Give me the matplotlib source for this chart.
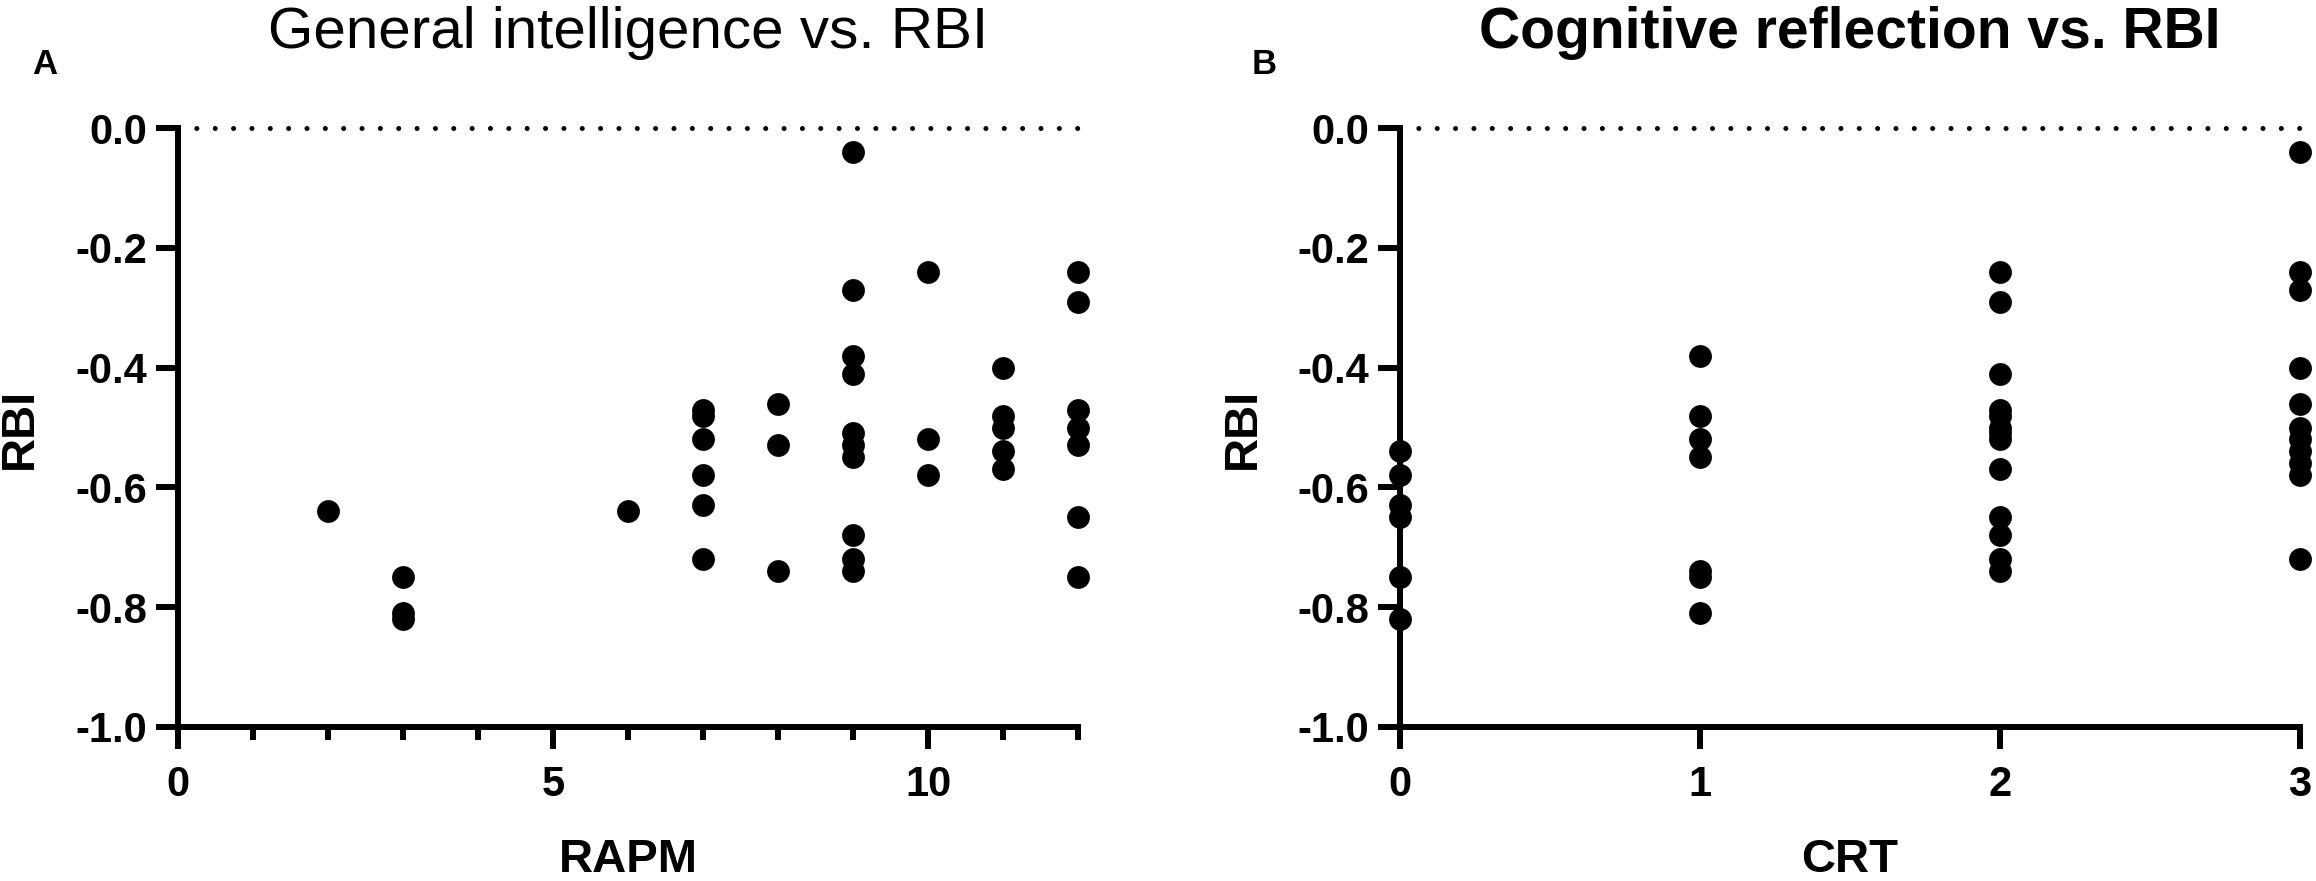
import matplotlib
matplotlib.use("Agg")
import matplotlib.pyplot as plt

# --- data ---
rapm = [2,
        3, 3, 3,
        6,
        7, 7, 7, 7, 7, 7,
        8, 8, 8,
        9, 9, 9, 9, 9, 9, 9, 9, 9, 9,
        10, 10, 10,
        11, 11, 11, 11, 11,
        12, 12, 12, 12, 12, 12, 12]
rbi_a = [-0.64,
         -0.75, -0.81, -0.82,
         -0.64,
         -0.47, -0.48, -0.52, -0.58, -0.63, -0.72,
         -0.46, -0.53, -0.74,
         -0.04, -0.27, -0.38, -0.41, -0.51, -0.53, -0.55, -0.68, -0.72, -0.74,
         -0.24, -0.52, -0.58,
         -0.40, -0.48, -0.50, -0.54, -0.57,
         -0.24, -0.29, -0.47, -0.50, -0.53, -0.65, -0.75]

crt = [0, 0, 0, 0, 0, 0,
       1, 1, 1, 1, 1, 1, 1,
       2, 2, 2, 2, 2, 2, 2, 2, 2, 2, 2, 2, 2,
       3, 3, 3, 3, 3, 3, 3, 3, 3, 3, 3]
rbi_b = [-0.54, -0.58, -0.63, -0.65, -0.75, -0.82,
         -0.38, -0.48, -0.52, -0.55, -0.74, -0.75, -0.81,
         -0.24, -0.29, -0.41, -0.47, -0.48, -0.50, -0.51, -0.52, -0.57, -0.65, -0.68, -0.72, -0.74,
         -0.04, -0.24, -0.27, -0.40, -0.46, -0.50, -0.52, -0.54, -0.56, -0.58, -0.72]

y_ticks = [0.0, -0.2, -0.4, -0.6, -0.8, -1.0]
y_ticklabels = ["0.0", "-0.2", "-0.4", "-0.6", "-0.8", "-1.0"]
a_major = [0, 5, 10]
a_major_labels = ["0", "5", "10"]
a_minor = [1, 2, 3, 4, 6, 7, 8, 9, 11, 12]
b_ticks = [0, 1, 2, 3]
b_ticklabels = ["0", "1", "2", "3"]

plt.rcParams["font.family"] = ["Liberation Sans", "DejaVu Sans"]
plt.rcParams["font.weight"] = "bold"

W, H = 2316, 881
fig = plt.figure(figsize=(W / 100, H / 100), dpi=100)

ax_a = fig.add_axes([178 / W, 1 - 727 / H, 900 / W, 599 / H])
ax_b = fig.add_axes([1400 / W, 1 - 727 / H, 900 / W, 599 / H])

LW = 4.3


def style(ax, xmax):
    ax.set_xlim(0, xmax)
    ax.set_ylim(-1, 0)
    for s in ["top", "right"]:
        ax.spines[s].set_visible(False)
    for s in ["left", "bottom"]:
        ax.spines[s].set_linewidth(LW)
    ax.set_yticks(y_ticks)
    ax.set_yticklabels(y_ticklabels)
    ax.tick_params(which="major", length=16, width=LW, labelsize=30)
    ax.tick_params(which="minor", length=9, width=LW)
    ax.tick_params(axis="x", pad=11)
    ax.tick_params(axis="y", pad=6)
    # dotted reference line at 0
    ax.plot([0, xmax], [0, 0], color="black", lw=3.6,
            linestyle=(0, (0.01, 3.66)), dash_capstyle="round", clip_on=False)


style(ax_a, 12)
ax_a.set_xticks(a_major)
ax_a.set_xticklabels(a_major_labels)
ax_a.set_xticks(a_minor, minor=True)
ax_a.scatter(rapm, rbi_a, s=270, color="black", linewidths=0, clip_on=False, zorder=5)

style(ax_b, 3)
ax_b.set_xticks(b_ticks)
ax_b.set_xticklabels(b_ticklabels)
ax_b.scatter(crt, rbi_b, s=270, color="black", linewidths=0, clip_on=False, zorder=5)

# titles, axis labels, panel letters
fig.text(628 / W, 1 - 48 / H, "General intelligence vs. RBI", ha="center", va="baseline",
         fontsize=42, fontweight="normal")
fig.text(1850 / W, 1 - 48 / H, "Cognitive reflection vs. RBI", ha="center", va="baseline",
         fontsize=41, fontweight="bold")
fig.text(628 / W, 1 - 860 / H, "RAPM", ha="center", va="center", fontsize=34)
fig.text(1850 / W, 1 - 860 / H, "CRT", ha="center", va="center", fontsize=34)
fig.text(20 / W, 1 - 428 / H, "RBI", ha="center", va="center", rotation=90, fontsize=34)
fig.text(1243 / W, 1 - 428 / H, "RBI", ha="center", va="center", rotation=90, fontsize=34)
fig.text(32 / W, 1 - 74 / H, "A", ha="left", va="baseline", fontsize=25)
fig.text(1252 / W, 1 - 74 / H, "B", ha="left", va="baseline", fontsize=25)

fig.savefig("out.png", dpi=100)
